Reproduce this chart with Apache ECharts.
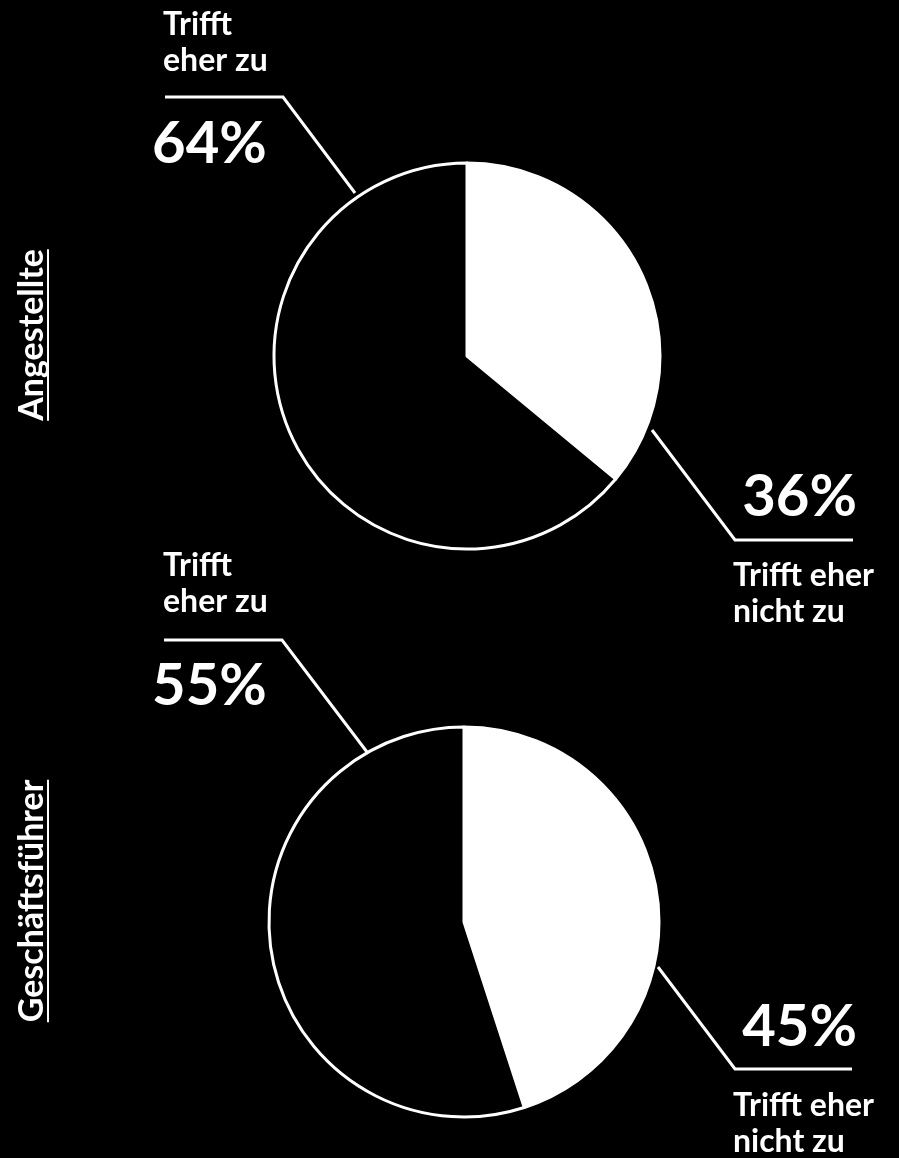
<!DOCTYPE html>
<html>
<head>
<meta charset="utf-8">
<script src="https://cdn.jsdelivr.net/npm/echarts@6/dist/echarts.min.js"></script>
<style>
html,body{margin:0;padding:0;background:#000;}
#chart{width:899px;height:1158px;}
</style>
</head>
<body>
<div id="chart"></div>
<script>
// ---- data ----
var groups = ['Angestellte', 'Geschäftsführer'];
var categories = ['Trifft eher nicht zu', 'Trifft eher zu'];
var categoryLabels = ['Trifft eher\nnicht zu', 'Trifft\neher zu'];
var valuesAngestellte = [36, 64];
var valuesGeschaeftsfuehrer = [45, 55];
var groupValues = [valuesAngestellte, valuesGeschaeftsfuehrer];

// ---- layout (not data) ----
var FONT = 'Lato';
var pies = [
  { center: [467, 356], radius: 193,
    nameLabel: [{x: 733, y: 594, align: 'left'}, {x: 163, y: 43, align: 'left'}],
    valueLabel: [{x: 857, y: 497, align: 'right'}, {x: 152, y: 144, align: 'left'}],
    lines: [[[652, 430], [735, 540], [853, 540]], [[355, 193], [283, 97], [165, 97]]],
    titleY: 335 },
  { center: [464, 922], radius: 195,
    nameLabel: [{x: 733, y: 1124, align: 'left'}, {x: 163, y: 584, align: 'left'}],
    valueLabel: [{x: 857, y: 1027, align: 'right'}, {x: 152, y: 686, align: 'left'}],
    lines: [[[658, 967], [735, 1069], [852, 1069]], [[367, 752], [282, 640], [164, 640]]],
    titleY: 901 }
];
var sliceColors = ['#ffffff', '#000000'];

function makeData(vals) {
  return vals.map(function (v, i) {
    return { name: categories[i], value: v,
      itemStyle: { color: sliceColors[i], borderColor: '#ffffff', borderWidth: 3 } };
  });
}

var series = [];
pies.forEach(function (p, gi) {
  series.push({
    type: 'pie', name: groups[gi], center: p.center, radius: p.radius,
    startAngle: 90, clockwise: true, avoidLabelOverlap: false, silent: true,
    data: makeData(groupValues[gi]),
    label: { show: true, position: 'outside', color: '#fff', fontFamily: FONT,
      fontWeight: 'bold', fontSize: 32, lineHeight: 36,
      formatter: function (prm) { return categoryLabels[prm.dataIndex]; } },
    labelLine: { show: true, smooth: false, lineStyle: { color: '#fff', width: 3 } },
    labelLayout: (function (pp) {
      return function (prm) {
        var nl = pp.nameLabel[prm.dataIndex];
        return { x: nl.x, y: nl.y, align: nl.align, verticalAlign: 'middle',
          labelLinePoints: pp.lines[prm.dataIndex] };
      };
    })(p),
    emphasis: { disabled: true }
  });
  series.push({
    type: 'pie', name: groups[gi] + ' %', center: p.center, radius: p.radius,
    startAngle: 90, clockwise: true, avoidLabelOverlap: false, silent: true,
    data: groupValues[gi].map(function (v, i) {
      return { name: categories[i], value: v, itemStyle: { color: 'rgba(0,0,0,0)', borderWidth: 0 } };
    }),
    label: { show: true, position: 'outside', color: '#fff', fontFamily: FONT,
      fontWeight: 'bold', fontSize: 58, formatter: '{c}%' },
    labelLine: { show: false },
    labelLayout: (function (pp) {
      return function (prm) {
        var vl = pp.valueLabel[prm.dataIndex];
        return { x: vl.x, y: vl.y, align: vl.align, verticalAlign: 'middle' };
      };
    })(p),
    emphasis: { disabled: true }
  });
});

// rotated group titles with underline
var ctx = document.createElement('canvas').getContext('2d');
var titleFontSize = 34;
ctx.font = 'bold ' + titleFontSize + 'px ' + FONT;
var graphics = [];
pies.forEach(function (p, gi) {
  var w = ctx.measureText(groups[gi]).width;
  graphics.push({
    type: 'text', x: 32, y: p.titleY, rotation: Math.PI / 2,
    style: { text: groups[gi], fill: '#fff', font: 'bold ' + titleFontSize + 'px ' + FONT,
      textAlign: 'center', textVerticalAlign: 'middle' }
  });
  graphics.push({
    type: 'line', shape: { x1: 48, y1: p.titleY - w / 2, x2: 48, y2: p.titleY + w / 2 },
    style: { stroke: '#fff', lineWidth: 2 }
  });
});

var chart = echarts.init(document.getElementById('chart'));
chart.setOption({
  backgroundColor: '#000000',
  animation: false,
  series: series,
  graphic: graphics
});
</script>
</body>
</html>
